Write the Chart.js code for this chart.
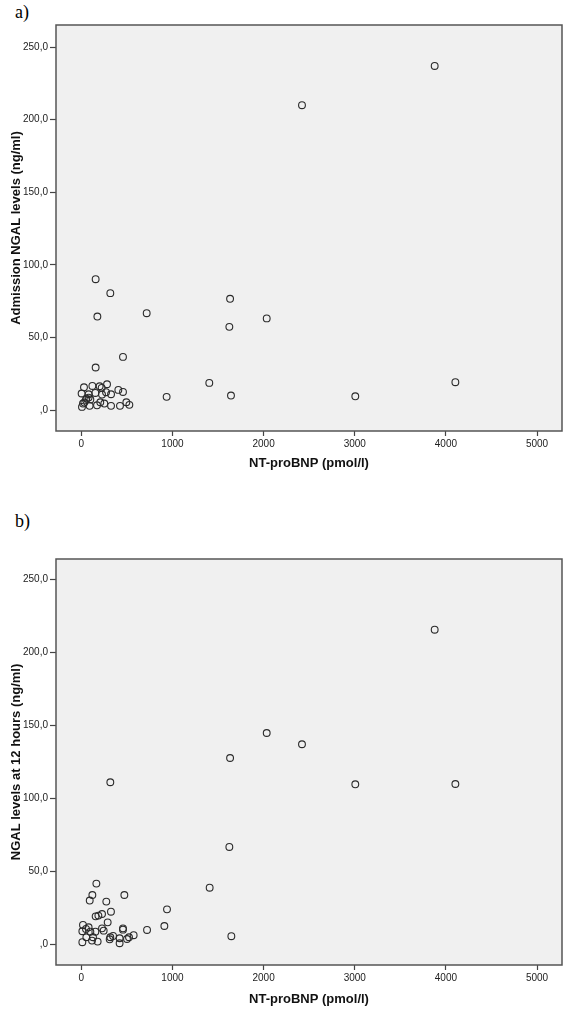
<!DOCTYPE html>
<html>
<head>
<meta charset="utf-8">
<script src="https://cdn.jsdelivr.net/npm/chart.js@4"></script>
<style>
  body { margin:0; background:#fff; width:567px; height:1015px; position:relative; overflow:hidden; }
  .panel { position:absolute; left:15px; font-family:"Liberation Serif","DejaVu Serif",serif; font-size:18px; color:#000; }
  canvas { position:absolute; left:0; }
</style>
</head>
<body>
<div class="panel" style="top:2px;">a)</div>
<div class="panel" style="top:511px;">b)</div>
<canvas id="chart_a" width="567" height="480" style="top:0px;"></canvas>
<canvas id="chart_b" width="567" height="525" style="top:490px;"></canvas>
<script>
// tick values and labels (same for both panels)
var xTicks = [0, 1000, 2000, 3000, 4000, 5000];
var yTicks = [0, 50, 100, 150, 200, 250];
var yTickLabels = [',0', '50,0', '100,0', '150,0', '200,0', '250,0'];

// a) NT-proBNP vs admission NGAL
var ntproBnpA = [3877, 2421, 4104, 3006, 1632, 1624, 2034, 1642, 1404, 936, 717, 457, 318, 157, 176, 157,
  29, 121, 201, 223, 282, 3, 80, 154, 227, 271, 326, 406, 457, 55, 99, 33, 18, 7, 91, 172, 208, 252, 326, 424, 494, 527, 51, 80];
var ngalAdmission = [237, 210, 19.3, 9.6, 76.7, 57.4, 63.2, 10.1, 18.8, 9.2, 66.8, 36.7, 80.6, 90.2, 64.5, 29.4,
  15.8, 16.7, 16.5, 15.4, 17.9, 11.5, 11.0, 11.9, 10.8, 12.4, 11.0, 14.0, 12.6, 8.0, 7.4, 5.3, 4.6, 2.3, 3.0, 3.4, 5.5, 4.6, 3.0, 3.0, 5.5, 3.7, 7.1, 8.7];

// b) NT-proBNP vs NGAL at 12 hours
var ntproBnpB = [3877, 2421, 3006, 4104, 2034, 1632, 1624, 1646, 1408, 318,
  165, 121, 92, 472, 274, 325, 227, 187, 157, 289, 940, 911, 721, 18, 11, 51, 80, 99, 154, 227, 245, 457, 457,
  55, 128, 11, 117, 179, 311, 348, 420, 420, 501, 523, 574, 318];
var ngal12h = [215.3, 136.9, 109.5, 109.7, 144.6, 127.5, 66.6, 5.5, 38.7, 110.9,
  41.5, 33.7, 29.9, 33.7, 29.2, 22.3, 20.7, 19.6, 19.1, 15.0, 23.9, 12.5, 9.8, 13.2, 8.9, 10.5, 11.6, 8.6, 8.6, 10.9, 9.3, 10.9, 10.0,
  4.8, 4.8, 1.4, 2.5, 1.8, 3.4, 5.7, 4.1, 0.7, 3.6, 4.8, 6.2, 4.8];

var FONT = '"Liberation Sans", Arial, sans-serif';

// gray plot background + frame round the chart area
var framePlugin = {
  id: 'frame',
  beforeDraw: function(chart) {
    var a = chart.chartArea, ctx = chart.ctx;
    ctx.save();
    ctx.fillStyle = '#f0f0f0';
    ctx.fillRect(a.left, a.top, a.right - a.left, a.bottom - a.top);
    ctx.restore();
  },
  afterDraw: function(chart) {
    var a = chart.chartArea, ctx = chart.ctx;
    ctx.save();
    ctx.strokeStyle = '#555';
    ctx.lineWidth = 1.5;
    ctx.strokeRect(a.left, a.top, a.right - a.left, a.bottom - a.top);
    ctx.restore();
  }
};

function make_chart(id, xs, ys, yTitle, yMin, yMax, padTop, xAxisH, xTitlePad) {
  var pts = [];
  for (var i = 0; i < xs.length; i++) {
    pts.push({x: xs[i], y: ys[i]});
  }
  var ctx = document.getElementById(id).getContext('2d');
  return new Chart(ctx, {
    type: 'scatter',
    data: { datasets: [{
      data: pts,
      pointStyle: 'circle',
      pointRadius: 3.4,
      pointHoverRadius: 3.4,
      borderWidth: 1.1,
      borderColor: '#2a2a2a',
      backgroundColor: 'rgba(0,0,0,0)'
    }]},
    options: {
      responsive: false,
      animation: false,
      devicePixelRatio: 1,
      layout: { padding: { top: padTop, right: 5, left: 0, bottom: 0 } },
      plugins: { legend: { display: false }, tooltip: { enabled: false } },
      scales: {
        x: {
          type: 'linear', min: -278, max: 5274,
          afterBuildTicks: function(ax) { ax.ticks = xTicks.map(function(v) { return {value: v}; }); },
          afterFit: function(ax) { ax.height = xAxisH; },
          grid: { drawOnChartArea: false, drawTicks: true, tickLength: 5, tickColor: '#444', tickWidth: 1.2 },
          border: { display: false },
          ticks: { font: { family: FONT, size: 10 }, color: '#222', padding: 2, maxRotation: 0,
            callback: function(v) { return String(v); } },
          title: { display: true, text: 'NT-proBNP (pmol/l)', color: '#111',
            font: { family: FONT, size: 13, weight: 'bold' }, padding: { top: xTitlePad, bottom: xTitlePad } }
        },
        y: {
          type: 'linear', min: yMin, max: yMax,
          afterBuildTicks: function(ax) { ax.ticks = yTicks.map(function(v) { return {value: v}; }); },
          afterFit: function(ax) { ax.width = 56; },
          grid: { drawOnChartArea: false, drawTicks: true, tickLength: 6, tickColor: '#444', tickWidth: 1.2 },
          border: { display: false },
          ticks: { font: { family: FONT, size: 10 }, color: '#222', padding: 2,
            callback: function(v) { return yTickLabels[yTicks.indexOf(v)]; } },
          title: { display: true, text: yTitle, color: '#111',
            font: { family: FONT, size: 13, weight: 'bold' }, padding: { top: 9, bottom: 9 } }
        }
      }
    },
    plugins: [framePlugin]
  });
}

make_chart('chart_a', ntproBnpA, ngalAdmission, 'Admission NGAL levels (ng/ml)', -14.3, 265.2, 25, 49, 9);
make_chart('chart_b', ntproBnpB, ngal12h, 'NGAL levels at 12 hours (ng/ml)', -14.2, 263.7, 69, 50, 8);
</script>
</body>
</html>
